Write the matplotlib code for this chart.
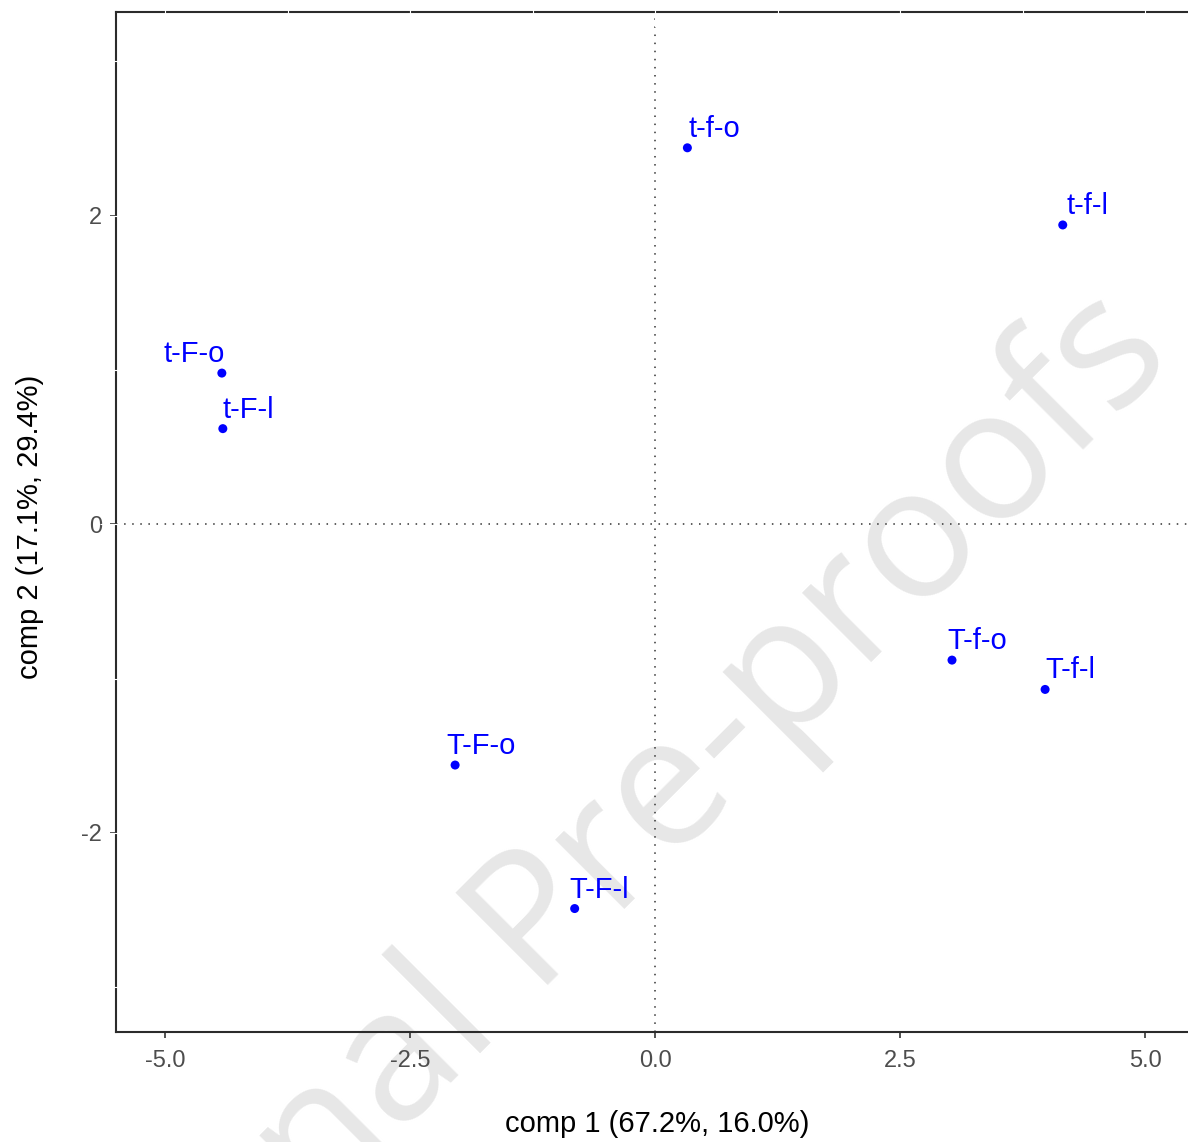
import numpy as np
import matplotlib
matplotlib.use("Agg")
from matplotlib import pyplot as plt

# sample scores on the first two components
labels = ["t-f-o", "t-f-l", "t-F-o", "t-F-l", "T-f-o", "T-f-l", "T-F-o", "T-F-l"]
comp1 = [0.33, 4.16, -4.42, -4.41, 3.03, 3.98, -2.04, -0.82]
comp2 = [2.44, 1.94, 0.98, 0.62, -0.88, -1.07, -1.56, -2.49]

x_ticks = [-5.0, -2.5, 0.0, 2.5, 5.0]
y_ticks = [-2, 0, 2]
x_title = "comp 1 (67.2%, 16.0%)"
y_title = "comp 2 (17.1%, 29.4%)"

# label placement (repel-like), horizontal nudge in pixels
label_ha = ["left", "left", "right", "left", "left", "left", "left", "left"]
label_dx = [1, 4, 3, 0, -5, 0, -9, -5]

plt.rcParams['font.family'] = ['Liberation Sans', 'DejaVu Sans']

W, H = 1188, 1142
fig = plt.figure(figsize=(W / 100, H / 100), dpi=100)
fig.patch.set_facecolor("white")

# axes box in pixels: left 116, right 1198 (just off the canvas), top 12, bottom 1032
ax = fig.add_axes([116 / W, 1 - 1032 / H, (1198 - 116) / W, (1032 - 12) / H])
ax.patch.set_visible(False)

# watermark, behind everything
fig.text(1180 / W, 1 - 368 / H, "Journal Pre-proofs", family="Open Sans",
         fontsize=132, color="#e7e7e7", rotation=45, rotation_mode="anchor",
         ha="right", va="baseline", zorder=-5)

ax.set_xlim(-5.5, 5.54)
ax.set_ylim(-3.29, 3.32)

ax.axhline(0, color="#333333", lw=1.1, ls=(0, (1, 4.3)), zorder=1)
ax.axvline(0, color="#333333", lw=1.1, ls=(0, (1, 4.3)), zorder=1)

ax.scatter(comp1, comp2, s=42, color="#0000ff", edgecolors="none", zorder=4)
for i, lab in enumerate(labels):
    ax.annotate(lab, (comp1[i], comp2[i]), xytext=(label_dx[i], 11),
                textcoords="offset pixels", ha=label_ha[i], va="baseline",
                fontsize=21, color="#0000ff", zorder=5)

ax.spines["right"].set_visible(False)
for side in ["left", "bottom", "top"]:
    ax.spines[side].set_color("#2b2b2b")
    ax.spines[side].set_linewidth(1.5)

ax.set_xticks(x_ticks)
ax.set_xticklabels(["%.1f" % v for v in x_ticks])
ax.set_yticks(y_ticks)
ax.set_yticklabels([str(v) for v in y_ticks])
ax.tick_params(direction="out", length=4, width=1.2, color="#333333",
               labelcolor="#4d4d4d", labelsize=17)
ax.tick_params(axis="x", pad=9)
ax.tick_params(axis="y", pad=6)

# faint white grid breaks cutting the frame lines
gx = np.arange(-5, 5.01, 1.25)
gy = np.arange(-3, 3.01, 1)
ax.vlines(gx, 0.985, 1.015, transform=ax.get_xaxis_transform(), colors="white",
          lw=0.8, clip_on=False, zorder=3)
ax.hlines(gy, -0.015, 0.003, transform=ax.get_yaxis_transform(), colors="white",
          lw=0.8, clip_on=False, zorder=3)

ax.set_xlabel(x_title, fontsize=21, color="black")
ax.set_ylabel(y_title, fontsize=21, color="black")
ax.xaxis.set_label_coords(0.5, -(1124 - 1032) / 1020)
ax.xaxis.label.set_va("center")
ax.yaxis.set_label_coords((30 - 116) / 1082, (1032 - 527) / 1020)
ax.yaxis.label.set_va("center")

fig.savefig("out.png", dpi=100)
